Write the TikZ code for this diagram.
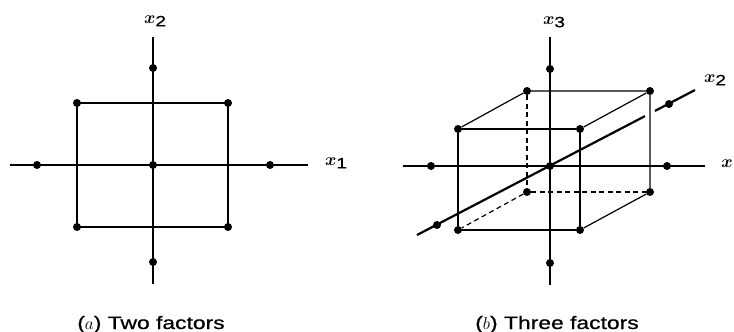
\documentclass[tikz,border=0pt]{standalone}
\usepackage{fontspec}
\setmainfont{Liberation Sans}
\newfontfamily\capfont[FakeStretch=1.27, FakeBold=0.8]{Liberation Sans}
\usepackage{tikz}
\usetikzlibrary{positioning}

\newcommand{\axlab}[1]{$x$\raisebox{-3pt}{\fontsize{15}{15}\capfont #1}}

\begin{document}
\begin{tikzpicture}[x=1pt, y=-1pt]
    \tikzstyle{pt} = [circle, fill, inner sep=0pt, minimum size=8pt]
    \tikzstyle{vaxis} = [draw, line width=2.6pt]
    \tikzstyle{haxis} = [draw, line width=1.7pt]
    \tikzstyle{daxis} = [draw, line width=2.2pt]
    \tikzstyle{edge} = [draw, line width=1.2pt]
    \tikzstyle{hidden} = [edge, dash pattern=on 5pt off 3.5pt]
    \tikzstyle{lab} = [font=\fontsize{19}{20}\selectfont\boldmath, inner sep=0pt]
    \tikzstyle{capt} = [font=\fontsize{18}{20}\capfont, anchor=base, inner sep=0pt]

    \useasboundingbox (0,0) rectangle (734,332);

    % (a) two factors
    \coordinate (aW) at (10,165);
    \coordinate (aE) at (308,165);
    \coordinate (aN) at (153,37);
    \coordinate (aS) at (153,284);
    \path [edge] (77,103) -- (228,103) -- (228,227) -- (77,227) -- cycle;
    \path [haxis] (aW) -- (aE);
    \path [vaxis] (aN) -- (aS);
    \node [pt] (a0) at (153,165) {};
    \node [pt] (a1) at (37,165) {};
    \node [pt] (a2) at (270,165) {};
    \node [pt] (a3) at (153,68) {};
    \node [pt] (a4) at (153,262) {};
    \node [pt] (a5) at (77,103) {};
    \node [pt] (a6) at (228,103) {};
    \node [pt] (a7) at (77,227) {};
    \node [pt] (a8) at (228,227) {};
    \node [lab] (ax2) at (155,21) {\axlab{2}};
    \node [lab] (ax1) at (336,163) {\axlab{1}};
    \node [capt] (capa) at (151,329) {($a$) Two factors};

    % (b) three factors
    \node [pt] (f1) at (458,129) {};
    \node [pt] (f2) at (580,129) {};
    \node [pt] (f3) at (580,230) {};
    \node [pt] (f4) at (458,230) {};
    \node [pt] (b1) at (527,91) {};
    \node [pt] (b2) at (650,91) {};
    \node [pt] (b3) at (650,192) {};
    \node [pt] (b4) at (527,192) {};
    \path [edge] (f1) -- (f2) -- (f3) -- (f4) -- (f1);
    \path [edge] (f1) -- (b1) -- (b2) -- (b3) -- (f3);
    \path [edge] (f2) -- (b2);
    \path [hidden] (b1) -- (b4) -- (b3);
    \path [hidden] (b4) -- (f4);

    \coordinate (bW) at (403,166);
    \coordinate (bE) at (705,166);
    \coordinate (bN) at (550,37);
    \coordinate (bS) at (550,285);
    \coordinate (dSW) at (417,235);
    \coordinate (gapA) at (645,116.1);
    \coordinate (gapB) at (655,110.9);
    \coordinate (dNE) at (695,90);
    \path [haxis] (bW) -- (bE);
    \path [daxis] (dSW) -- (gapA);
    \path [daxis] (gapB) -- (dNE);
    \path [vaxis] (bN) -- (bS);
    \node [pt] (c0) at (550,166) {};
    \node [pt] (c1) at (431,166) {};
    \node [pt] (c2) at (667,166) {};
    \node [pt] (c3) at (550,69) {};
    \node [pt] (c4) at (550,263) {};
    \node [pt] (c5) at (437,225) {};
    \node [pt] (c6) at (669,104) {};
    \node [lab] (bx3) at (554,22) {\axlab{3}};
    \node [lab] (bx2) at (715,80) {\axlab{2}};
    \node [lab] (bx1) at (727,164) {$x$};
    \node [capt] (capb) at (557,329) {($b$) Three factors};
\end{tikzpicture}
\end{document}
